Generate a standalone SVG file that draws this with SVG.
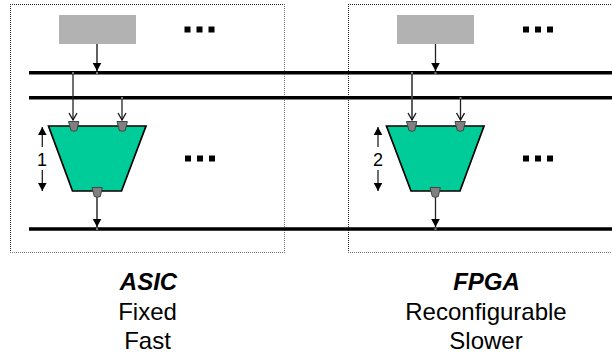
<svg xmlns="http://www.w3.org/2000/svg" width="612" height="354" viewBox="0 0 612 354">
<style>
.frame{fill:none;stroke:#222;stroke-width:1;stroke-dasharray:1 1}
.frame2{fill:none;stroke:#777;stroke-width:1;stroke-dasharray:1 1}
.bus{stroke:#000;stroke-width:3.6;fill:none}
.src{fill:#b2b2b2}
.alu{fill:#00cc99;stroke:#000;stroke-width:1.7}
.pin{fill:#808080;stroke:#444;stroke-width:1;stroke-linejoin:round}
.wire{stroke:#222;stroke-width:1.3;fill:none}
.thick{stroke:#444;stroke-width:1.7;fill:none}
.tap{fill:#777}
.t{font-family:"Liberation Sans",Arial,sans-serif;font-size:24px;text-anchor:middle;fill:#000}
.n{font-family:"Liberation Sans",Arial,sans-serif;font-size:18px;text-anchor:middle;fill:#000}
.b{font-weight:bold;font-style:italic}
</style>
<defs>
<marker id="solid" markerUnits="userSpaceOnUse" markerWidth="10" markerHeight="10" refX="8" refY="4.500" orient="auto"><path d="M0 .2L8 4.500L0 8.800Z" fill="#000"/></marker>
<marker id="open" markerUnits="userSpaceOnUse" markerWidth="10" markerHeight="10" refX="8" refY="4.500" orient="auto"><path d="M1 .5L8 4.500L1 8.500" fill="none" stroke="#111" stroke-width="1.300"/></marker>
<g id="dots"><rect x="0" y="0" width="6" height="6"/><rect x="12" y="0" width="6" height="6"/><rect x="24" y="0" width="6" height="6"/></g>
</defs>
<path class="frame" d="M10 4.500H285M10.500 4V253"/>
<path class="frame2" d="M284.500 4V253M10 252.500H285"/>
<path class="frame" d="M348 4.500H612M348.500 4V253"/>
<path class="frame2" d="M348 252.500H612"/>
<g id="connectors">
<path class="bus" d="M29 72.800H612M29 97.800H612M29 229H612"/>
<path class="thick" d="M97 44V71" marker-end="url(#solid)"/>
<path class="wire" d="M73 73V120" marker-end="url(#open)"/>
<path class="wire" d="M122 98V120" marker-end="url(#open)"/>
<path class="thick" d="M97 197V227" marker-end="url(#solid)"/>
<path class="wire" d="M435.500 44V71" marker-end="url(#solid)"/>
<path class="thick" d="M412 73V120" marker-end="url(#open)"/>
<path class="wire" d="M460.500 98V120" marker-end="url(#open)"/>
<path class="wire" d="M435.500 197V227" marker-end="url(#solid)"/>
<path class="wire" d="M42.300 147V127" marker-end="url(#solid)"/>
<path class="wire" d="M42.300 170V191" marker-end="url(#solid)"/>
<path class="wire" d="M378 147V127" marker-end="url(#solid)"/>
<path class="wire" d="M378 170V191" marker-end="url(#solid)"/>
<path class="tap" d="M72 72h2v2h-2zM96 72h2v2h-2zM121 97h2v2h-2zM96 228h2v2h-2zM411 72h2v2h-2zM434.500 72h2v2h-2zM459.500 97h2v2h-2zM434.500 228h2v2h-2z"/>
</g>
<g id="asic-source"><rect class="src" x="59" y="15" width="77" height="29"/></g>
<g id="asic-dots-top"><use href="#dots" x="184.500" y="26.500"/></g>
<g id="asic-dots-mid"><use href="#dots" x="185" y="155.500"/></g>
<g id="asic-alu">
<path class="alu" d="M48.500 126H146L121.500 191H72.500Z"/>
<path class="pin" d="M68.500 121.500H78.800L76.800 130.500Q73.800 132 71 130.500Z"/>
<path class="pin" d="M117 121.500H127.300L125.300 130.500Q122.300 132 119.300 130.500Z"/>
<path class="pin" d="M92 187.500H102.300L100.300 196.500Q97.300 198 94.300 196.500Z"/>
</g>
<g id="asic-label-1"><text class="n" x="42" y="166">1</text></g>
<g id="fpga-source"><rect class="src" x="397" y="15" width="77" height="29"/></g>
<g id="fpga-dots-top"><use href="#dots" x="523" y="26.500"/></g>
<g id="fpga-dots-mid"><use href="#dots" x="523" y="155.500"/></g>
<g id="fpga-alu">
<path class="alu" d="M386.500 126H484L460 191H411Z"/>
<path class="pin" d="M406.500 121.500H416.800L414.800 130.500Q411.800 132 409 130.500Z"/>
<path class="pin" d="M455 121.500H465.300L463.300 130.500Q460.300 132 457.300 130.500Z"/>
<path class="pin" d="M430 187.500H440.300L438.300 196.500Q435.300 198 432.300 196.500Z"/>
</g>
<g id="fpga-label-2"><text class="n" x="378" y="166">2</text></g>
<g id="asic-caption">
<text class="t b" x="148.500" y="290">ASIC</text>
<text class="t" x="147.500" y="320">Fixed</text>
<text class="t" x="147.500" y="349">Fast</text>
</g>
<g id="fpga-caption">
<text class="t b" x="486.500" y="290">FPGA</text>
<text class="t" x="486" y="320">Reconfigurable</text>
<text class="t" x="486" y="349">Slower</text>
</g>
</svg>
